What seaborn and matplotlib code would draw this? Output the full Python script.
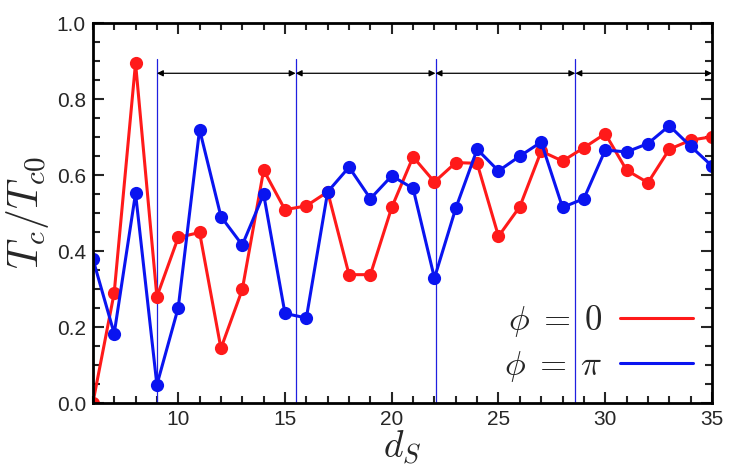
import numpy as np
import pandas as pd
import matplotlib
matplotlib.use("Agg")
import matplotlib.pyplot as plt
import seaborn as sns
from matplotlib.lines import Line2D

d_s = list(range(6, 36))
tc_phi0 = [0.00, 0.29, 0.895, 0.28, 0.436, 0.449, 0.144, 0.299, 0.613, 0.509,
           0.519, 0.556, 0.338, 0.338, 0.515, 0.648, 0.582, 0.633, 0.631, 0.439,
           0.517, 0.663, 0.637, 0.672, 0.709, 0.613, 0.580, 0.668, 0.692, 0.701]
tc_phipi = [0.380, 0.183, 0.552, 0.048, 0.251, 0.720, 0.491, 0.416, 0.550, 0.236,
            0.224, 0.556, 0.621, 0.538, 0.598, 0.565, 0.329, 0.513, 0.668, 0.611,
            0.650, 0.687, 0.515, 0.538, 0.666, 0.661, 0.683, 0.730, 0.676, 0.624]
boundaries = [9.0, 15.5, 22.05, 28.6]
x_end = 35
arrow_y = 0.868
vline_top = 0.905

series_labels = [r"$\phi\;=\;0$", r"$\phi\;=\;\pi$"]
colors = ["#ff1a1a", "#0a14f0"]

sns.set_style("ticks")
plt.rcParams["font.family"] = ["Liberation Sans", "DejaVu Sans"]
plt.rcParams["mathtext.fontset"] = "cm"

df = pd.DataFrame({
    "d_s": d_s * 2,
    "tc": tc_phi0 + tc_phipi,
    "phi": [series_labels[0]] * len(d_s) + [series_labels[1]] * len(d_s),
})

fig = plt.figure(figsize=(7.31, 4.72), dpi=100)
ax = fig.add_axes([0.127, 0.146, 0.847, 0.805])

for lab, col in zip(series_labels, colors):
    sub = df[df["phi"] == lab]
    sns.lineplot(data=sub, x="d_s", y="tc", ax=ax, color=col, marker="o",
                 markersize=9.5, markeredgewidth=0, linewidth=2.2, legend=False)

# vertical boundary lines
for b in boundaries:
    ax.plot([b, b], [0, vline_top], color="#2020e0", lw=0.9, zorder=1)

# double-headed arrows
edges = boundaries + [x_end]
for a, b in zip(edges[:-1], edges[1:]):
    ax.annotate("", xy=(b, arrow_y), xytext=(a, arrow_y),
                arrowprops=dict(arrowstyle="<|-|>", color="black", lw=0.9,
                                mutation_scale=9, shrinkA=0, shrinkB=0),
                annotation_clip=False)

ax.set_xlim(6, 35)
ax.set_ylim(0, 1.0)
ax.set_xticks([10, 15, 20, 25, 30, 35])
ax.set_xticks(np.arange(6, 36, 1), minor=True)
ax.set_yticks(np.arange(0, 1.01, 0.2))
ax.set_yticks(np.arange(0, 1.01, 0.05), minor=True)
ax.yaxis.set_major_formatter(matplotlib.ticker.FormatStrFormatter("%.1f"))
ax.tick_params(which="both", direction="in", top=True, right=True, labelsize=15,
               width=1.5, pad=5)
ax.tick_params(which="major", length=8)
ax.tick_params(which="minor", length=5)
for s in ax.spines.values():
    s.set_linewidth(2)
    s.set_color("black")

ax.set_xlabel(r"$d_S$", fontsize=27, labelpad=0)
ax.set_ylabel(r"$T_c/T_{c0}$", fontsize=30, labelpad=4)

handles = [Line2D([0], [0], color=c, lw=2.2) for c in colors]
ax.legend(handles, series_labels, loc="lower right", frameon=False, markerfirst=False,
          fontsize=25, handlelength=2.1, handletextpad=0.5, labelspacing=0.3,
          borderpad=0, borderaxespad=0, bbox_to_anchor=(0.969, 0.05))

fig.savefig("out.png", dpi=100)
